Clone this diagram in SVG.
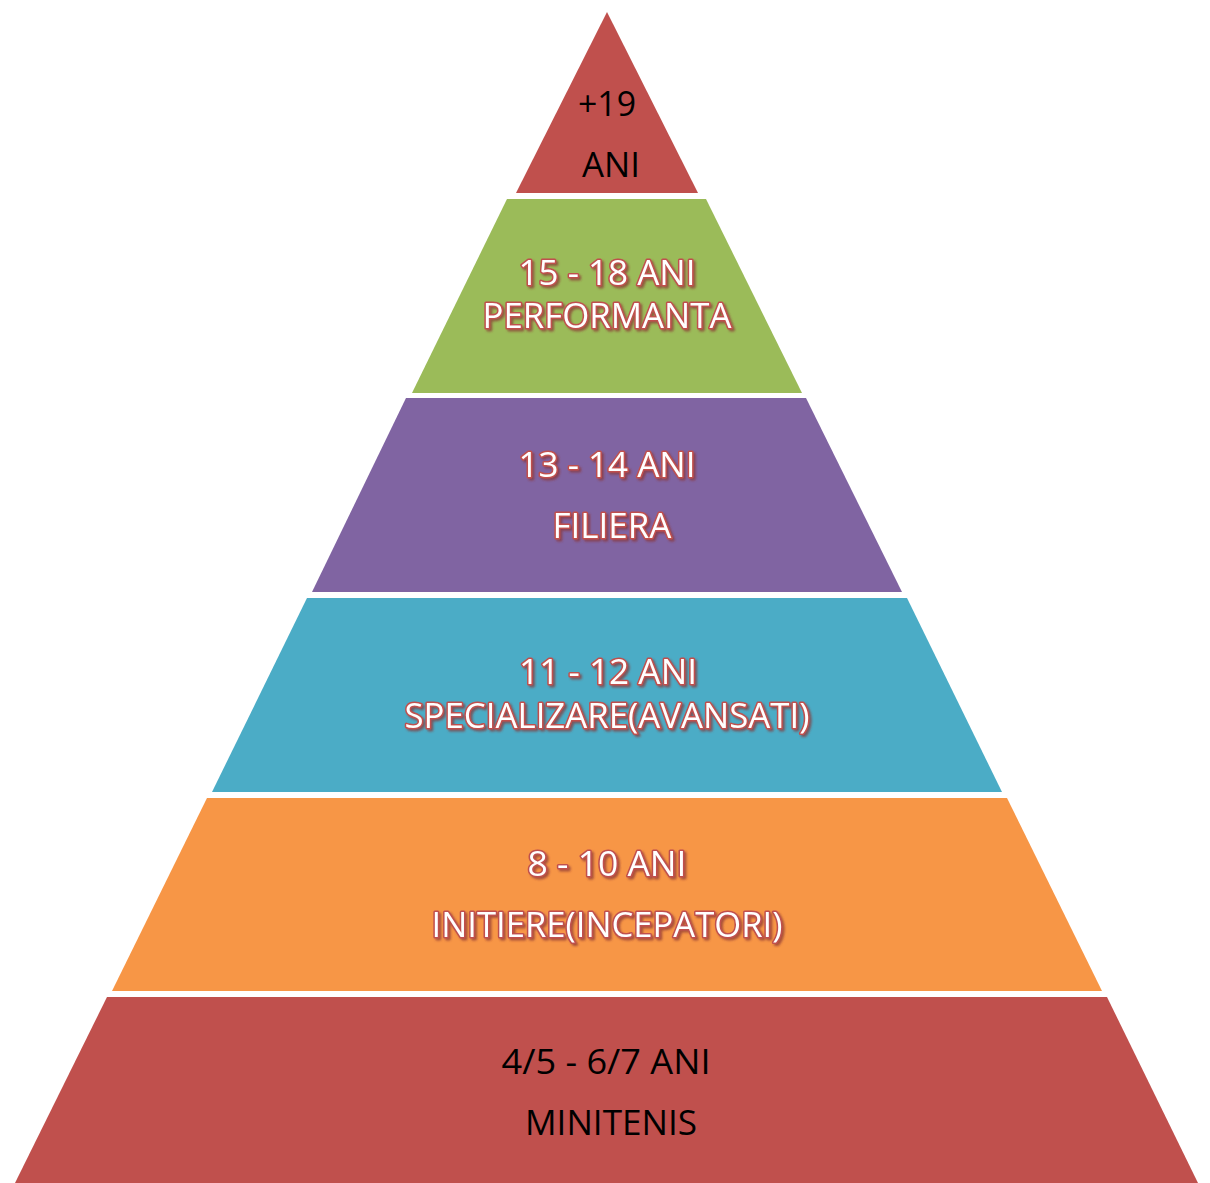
<svg xmlns="http://www.w3.org/2000/svg" width="1210" height="1183" viewBox="0 0 1210 1183">
<defs>
<style>
.t{font-family:"Open Sans","Liberation Sans",sans-serif;font-size:34px;text-anchor:middle}
.b{fill:#000}
.w{fill:#fff;stroke:#C0504D;stroke-width:3;paint-order:stroke;stroke-linejoin:round;filter:url(#sh)}
</style>
<filter id="sh" x="-10%" y="-30%" width="120%" height="160%">
<feDropShadow dx="2" dy="2" stdDeviation="0.8" flood-color="#8a3330" flood-opacity="0.7"/>
</filter>
</defs>
<rect width="1210" height="1183" fill="#fff"/>
<g id="level6">
<polygon points="607,12 698,193 516,193" fill="#C0504D"/>
<text class="t b" x="607" y="116" textLength="58" lengthAdjust="spacingAndGlyphs">+19</text>
<text class="t b" x="611" y="177" textLength="58" lengthAdjust="spacingAndGlyphs">ANI</text>
</g>
<g id="level5">
<polygon points="507,199 706,199 802,393 412,393" fill="#9BBB59"/>
<text class="t w" x="607" y="285" textLength="177" lengthAdjust="spacingAndGlyphs">15 - 18 ANI</text>
<text class="t w" x="607" y="328" textLength="249" lengthAdjust="spacingAndGlyphs">PERFORMANTA</text>
</g>
<g id="level4">
<polygon points="406,398 806,398 902,592 312,592" fill="#8064A2"/>
<text class="t w" x="607" y="477" textLength="177" lengthAdjust="spacingAndGlyphs">13 - 14 ANI</text>
<text class="t w" x="612" y="538" textLength="119" lengthAdjust="spacingAndGlyphs">FILIERA</text>
</g>
<g id="level3">
<polygon points="307,598 907,598 1002,792 212,792" fill="#4BACC6"/>
<text class="t w" x="608" y="684" textLength="178" lengthAdjust="spacingAndGlyphs">11 - 12 ANI</text>
<text class="t w" x="607" y="728" textLength="405" lengthAdjust="spacingAndGlyphs">SPECIALIZARE(AVANSATI)</text>
</g>
<g id="level2">
<polygon points="207,798 1007,798 1102,991 112,991" fill="#F79646"/>
<text class="t w" x="607" y="876" textLength="159" lengthAdjust="spacingAndGlyphs">8 - 10 ANI</text>
<text class="t w" x="607" y="937" textLength="351" lengthAdjust="spacingAndGlyphs">INITIERE(INCEPATORI)</text>
</g>
<g id="level1">
<polygon points="107,997 1107,997 1198,1183 15,1183" fill="#C0504D"/>
<text class="t b" x="606" y="1074" textLength="209" lengthAdjust="spacingAndGlyphs">4/5 - 6/7 ANI</text>
<text class="t b" x="611" y="1135" textLength="172" lengthAdjust="spacingAndGlyphs">MINITENIS</text>
</g>
<g id="connectors"></g>
</svg>
